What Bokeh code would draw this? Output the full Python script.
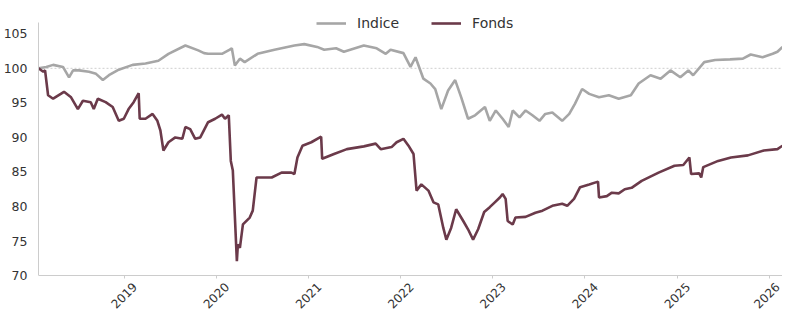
import pandas as pd
from bokeh.plotting import figure
from bokeh.models import (Range1d, Span, Legend, LegendItem, FixedTicker, DatetimeAxis,
                          DatetimeTickFormatter, CustomJSTickFormatter)
from bokeh.embed import file_html
from bokeh.resources import INLINE
import math

# ---------------- data ----------------
indice_dates = [
    "2018-01-27", "2018-02-27", "2018-03-26", "2018-05-04", "2018-05-28", "2018-06-13",
    "2018-07-07", "2018-08-15", "2018-09-12", "2018-10-09", "2018-11-02", "2018-12-11",
    "2019-02-04", "2019-03-27", "2019-05-17", "2019-06-26", "2019-09-01", "2019-10-22",
    "2019-11-14", "2019-11-30", "2020-01-24", "2020-02-24", "2020-03-03", "2020-03-15",
    "2020-04-04", "2020-04-23", "2020-06-13", "2020-08-19", "2020-11-06", "2020-12-15",
    "2021-02-04", "2021-03-04", "2021-04-20", "2021-05-21", "2021-08-08", "2021-09-28",
    "2021-11-03", "2021-11-22", "2022-01-12", "2022-02-09", "2022-03-01", "2022-04-01",
    "2022-04-29", "2022-05-18", "2022-06-11", "2022-07-08", "2022-08-05", "2022-08-29",
    "2022-09-25", "2022-10-23", "2022-12-01", "2022-12-20", "2023-01-13", "2023-02-09",
    "2023-03-05", "2023-03-21", "2023-04-17", "2023-05-11", "2023-06-07", "2023-07-05",
    "2023-07-28", "2023-08-25", "2023-10-03", "2023-10-31", "2023-11-23", "2023-12-21",
    "2024-01-18", "2024-02-26", "2024-04-05", "2024-05-14", "2024-07-01", "2024-08-01",
    "2024-09-17", "2024-10-27", "2024-12-05", "2025-01-13", "2025-02-14", "2025-03-05",
    "2025-04-18", "2025-05-31", "2025-07-29", "2025-09-18", "2025-10-19", "2025-12-05",
    "2026-01-14", "2026-02-02", "2026-02-22",
]
indice_values = [
    100.0, 100.2, 100.5, 100.2, 98.7, 99.7,
    99.7, 99.5, 99.2, 98.3, 99.0, 99.8,
    100.5, 100.7, 101.1, 102.1, 103.3, 102.6,
    102.2, 102.1, 102.1, 102.7, 102.9, 100.4,
    101.4, 100.9, 102.1, 102.7, 103.3, 103.5,
    103.1, 102.7, 102.9, 102.4, 103.3, 102.9,
    102.1, 102.7, 102.2, 100.2, 101.6, 98.5,
    97.8, 97.0, 94.1, 96.8, 98.3, 95.8,
    92.7, 93.2, 94.4, 92.4, 93.9, 92.7,
    91.5, 93.9, 92.9, 93.9, 93.2, 92.4,
    93.4, 93.6, 92.4, 93.4, 94.9, 97.0,
    96.3, 95.8, 96.1, 95.6, 96.1, 97.8,
    99.0, 98.5, 99.7, 98.7, 99.7, 99.0,
    100.9, 101.2, 101.3, 101.4, 102.0, 101.6,
    102.1, 102.4, 103.1,
]

fonds_dates = [
    "2018-01-27", "2018-02-15", "2018-02-22", "2018-03-06", "2018-03-26", "2018-05-08",
    "2018-06-05", "2018-07-02", "2018-07-22", "2018-08-22", "2018-09-03", "2018-09-19",
    "2018-10-20", "2018-11-17", "2018-12-11", "2018-12-31", "2019-01-19", "2019-02-08",
    "2019-02-28", "2019-03-04", "2019-03-27", "2019-04-24", "2019-05-13", "2019-05-25",
    "2019-06-06", "2019-06-26", "2019-07-23", "2019-08-20", "2019-09-01", "2019-09-20",
    "2019-10-10", "2019-10-30", "2019-11-30", "2019-12-28", "2020-01-24", "2020-02-05",
    "2020-02-20", "2020-02-28", "2020-03-07", "2020-03-23", "2020-03-27", "2020-04-04",
    "2020-04-16", "2020-05-13", "2020-05-25", "2020-06-09", "2020-06-29", "2020-08-08",
    "2020-09-16", "2020-10-25", "2020-11-06", "2020-11-18", "2020-12-08", "2021-01-12",
    "2021-02-20", "2021-02-24", "2021-04-12", "2021-06-02", "2021-08-08", "2021-09-24",
    "2021-10-14", "2021-11-26", "2021-12-16", "2022-01-12", "2022-02-01", "2022-02-21",
    "2022-03-05", "2022-03-24", "2022-04-21", "2022-05-11", "2022-05-30", "2022-06-19",
    "2022-07-01", "2022-07-20", "2022-08-09", "2022-09-06", "2022-09-25", "2022-10-15",
    "2022-11-04", "2022-11-28", "2022-12-20", "2023-01-09", "2023-01-29", "2023-02-09",
    "2023-02-21", "2023-03-01", "2023-03-21", "2023-04-01", "2023-05-11", "2023-06-19",
    "2023-07-17", "2023-08-25", "2023-10-03", "2023-10-23", "2023-11-19", "2023-12-13",
    "2024-01-18", "2024-02-22", "2024-02-26", "2024-03-28", "2024-04-17", "2024-05-14",
    "2024-06-07", "2024-07-04", "2024-08-13", "2024-10-19", "2024-12-21", "2025-01-25",
    "2025-02-18", "2025-02-25", "2025-03-29", "2025-04-06", "2025-04-14", "2025-06-12",
    "2025-08-02", "2025-10-08", "2025-12-10", "2026-02-02", "2026-02-22",
]
fonds_values = [
    100.0, 99.5, 99.7, 96.1, 95.6, 96.6,
    95.8, 94.1, 95.3, 95.1, 94.1, 95.6,
    95.1, 94.4, 92.4, 92.7, 94.1, 95.1,
    96.4, 92.7, 92.7, 93.4, 92.4, 91.0,
    88.1, 89.3, 90.0, 89.8, 91.5, 91.2,
    89.8, 90.0, 92.2, 92.7, 93.3, 92.7,
    93.2, 86.6, 85.2, 72.1, 74.5, 74.0,
    77.4, 78.4, 79.4, 84.2, 84.2, 84.2,
    84.9, 84.9, 84.7, 87.1, 88.8, 89.3,
    90.1, 86.9, 87.6, 88.3, 88.7, 89.1,
    88.3, 88.6, 89.3, 89.8, 88.8, 87.6,
    82.3, 83.2, 82.3, 80.6, 80.3, 76.9,
    75.2, 76.9, 79.6, 77.9, 76.7, 75.2,
    76.7, 79.2, 79.9, 80.6, 81.3, 81.8,
    81.1, 77.9, 77.4, 78.4, 78.5, 79.1,
    79.4, 80.1, 80.4, 80.1, 81.1, 82.8,
    83.2, 83.6, 81.3, 81.5, 82.0, 81.9,
    82.5, 82.7, 83.7, 84.9, 85.9, 86.0,
    87.1, 84.7, 84.8, 84.2, 85.7, 86.6,
    87.1, 87.4, 88.1, 88.3, 88.8,
]

series_names = ["Indice", "Fonds"]
series_colors = ["#a6a6a6", "#6b3a4a"]
x_tick_years = ["2019", "2020", "2021", "2022", "2023", "2024", "2025", "2026"]
y_ticks = [70, 75, 80, 85, 90, 95, 100, 105]
reference_level = 100

# ---------------- view / layout settings (not data) ----------------
y_min, y_axis_top = 70, 106.6
y_view_top, y_view_bottom = 108.37, 64.8

W, H = 782, 311
B_LEFT, B_RIGHT, B_TOP, B_BOTTOM = 32, 0, 10, 0
FONT = "DejaVu Sans"
TXT = "#333333"
SPINE = "#cccccc"

# ---------------- plot ----------------
d_i = pd.to_datetime(indice_dates)
d_f = pd.to_datetime(fonds_dates)
x_start = min(d_i.min(), d_f.min())
x_end = max(d_i.max(), d_f.max())

p = figure(width=W, height=H, x_axis_type="datetime",
           output_backend="svg", toolbar_location=None,
           x_range=Range1d(x_start, x_end),
           y_range=Range1d(y_view_bottom, y_view_top),
           min_border_left=B_LEFT, min_border_right=B_RIGHT,
           min_border_top=B_TOP, min_border_bottom=B_BOTTOM)
p.outline_line_color = None
p.background_fill_color = "white"
p.border_fill_color = "white"
p.grid.visible = False

p.add_layout(Span(location=reference_level, dimension="width", line_color="#cfcfcf",
                  line_width=1, line_dash="2 2", level="underlay"))

r_i = p.line(d_i, indice_values, line_color=series_colors[0], line_width=2.6)
r_f = p.line(d_f, fonds_values, line_color=series_colors[1], line_width=2.6)

frame_w = W - B_LEFT - B_RIGHT
frame_h = H - B_TOP - B_BOTTOM
legend_h = 16 + 2 * 2
legend = Legend(items=[LegendItem(label=series_names[0], renderers=[r_i]),
                       LegendItem(label=series_names[1], renderers=[r_f])],
                location=(278, frame_h - 1 - legend_h), orientation="horizontal",
                border_line_color=None, background_fill_alpha=0,
                label_text_font=FONT, label_text_font_size="14px", label_text_color=TXT,
                glyph_width=30, glyph_height=16, label_height=16, label_standoff=11,
                spacing=32, padding=2, margin=0)
p.add_layout(legend, "center")

# x axis (spine + tick marks) fixed at the bottom of the value scale
tick_dates = [pd.Timestamp(f"{y}-01-01") for y in x_tick_years]
xa = p.xaxis[0]
xa.fixed_location = y_min
xa.ticker = FixedTicker(ticks=[t.value / 1e6 for t in tick_dates])
xa.formatter = CustomJSTickFormatter(code="return ''")
xa.major_label_standoff = 0
xa.axis_line_color = SPINE
xa.major_tick_line_color = SPINE
xa.major_tick_in = 0
xa.major_tick_out = 3
xa.minor_tick_line_color = None

# year labels, rotated 45 deg and centred under each tick (kept inside the frame)
ms_per_px = (x_end - x_start).total_seconds() * 1000 / frame_w
label_half_px, edge_px = 10.8, 5
x_end_ms = x_end.value / 1e6
lab_ticks = [min(t.value / 1e6 + label_half_px * ms_per_px, x_end_ms - edge_px * ms_per_px)
             for t in tick_dates]
xl = DatetimeAxis(fixed_location=y_min, ticker=FixedTicker(ticks=lab_ticks),
                  formatter=DatetimeTickFormatter(years="%Y", months="%Y", days="%Y",
                                                  hours="%Y", hourmin="%Y", minutes="%Y",
                                                  minsec="%Y", seconds="%Y",
                                                  milliseconds="%Y", microseconds="%Y"),
                  major_label_orientation=math.pi / 4, major_label_standoff=3,
                  major_label_text_font=FONT, major_label_text_font_size="12px",
                  major_label_text_color=TXT, axis_line_color=None,
                  major_tick_line_color=None, minor_tick_line_color=None)
p.add_layout(xl, "below")

ya = p.yaxis[0]
ya.ticker = FixedTicker(ticks=y_ticks)
ya.bounds = (y_min, y_axis_top)
ya.major_label_text_font = FONT
ya.major_label_text_font_size = "12.5px"
ya.major_label_text_color = TXT
ya.major_label_standoff = 5
ya.axis_line_color = SPINE
ya.major_tick_line_color = None
ya.minor_tick_line_color = None

open("out.html", "w").write(file_html(p, INLINE))
